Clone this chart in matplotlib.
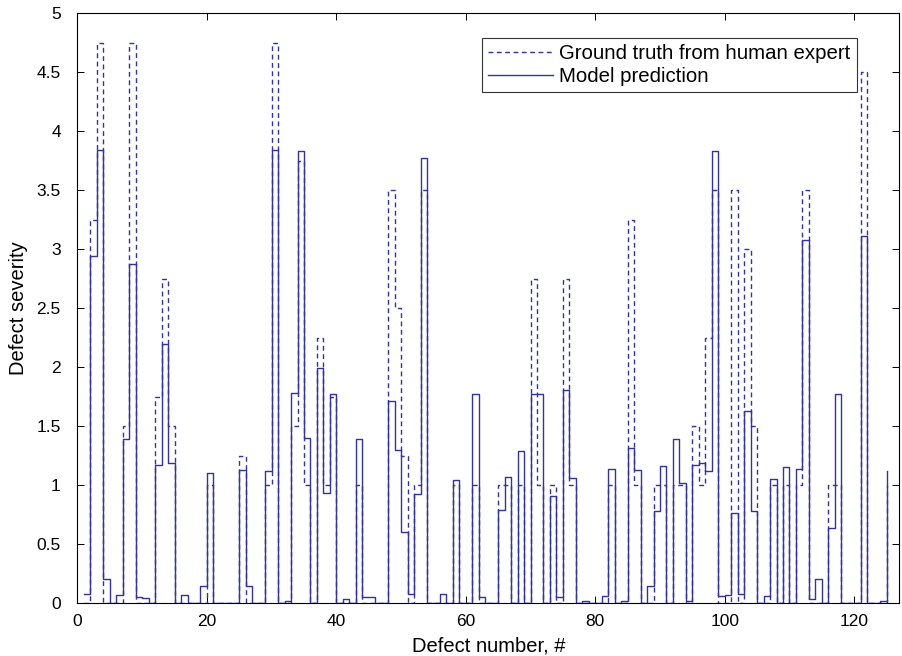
import numpy as np
import matplotlib
matplotlib.use("Agg")
import matplotlib.pyplot as plt
from matplotlib.ticker import FuncFormatter

# Оценки экспертов и модели для каждого дефекта (1..125)
ground_truth = [
    0, 3.25, 4.75, 0, 0, 0, 1.5, 4.75, 0, 0,
    0, 1.75, 2.75, 1.5, 0, 0, 0, 0, 0, 1.0,
    0, 0, 0, 0, 1.25, 0, 0, 0, 1.0, 4.75,
    0, 0, 1.5, 3.75, 1.0, 0, 2.25, 1.0, 1.75, 0,
    0, 0, 1.0, 0, 0, 0, 0, 3.5, 2.5, 1.25,
    0, 1.0, 3.5, 0, 0, 0, 0, 1.0, 0, 0,
    1.0, 0, 0, 0, 1.0, 1.0, 0, 1.0, 0, 2.75,
    1.0, 0, 1.0, 0, 2.75, 1.0, 0, 0, 0, 0,
    0, 1.0, 0, 0, 3.25, 1.0, 0, 0, 1.0, 1.0,
    0, 1.0, 1.0, 0, 1.5, 1.0, 2.25, 3.5, 0, 0,
    3.5, 0, 3.0, 1.5, 0, 0, 1.0, 0, 1.0, 0,
    1.0, 3.5, 0, 0, 0, 1.0, 1.0, 0, 0, 0,
    4.5, 0, 0, 0, 1.0,
]
model_prediction = [
    0.08, 2.94, 3.84, 0.2, 0, 0.07, 1.39, 2.87, 0.05, 0.04,
    0, 1.17, 2.2, 1.19, 0, 0.07, 0, 0, 0.14, 1.1,
    0, 0, 0, 0, 1.13, 0.14, 0, 0, 1.12, 3.84,
    0, 0.02, 1.78, 3.83, 1.4, 0, 1.99, 0.93, 1.77, 0,
    0.03, 0, 1.39, 0.05, 0.05, 0, 0, 1.71, 1.3, 0.6,
    0.08, 0.92, 3.77, 0, 0, 0.08, 0, 1.04, 0, 0,
    1.77, 0.05, 0, 0, 0.79, 1.07, 0, 1.29, 0, 1.77,
    1.77, 0, 0.91, 0.05, 1.81, 1.06, 0, 0.02, 0, 0,
    0.06, 1.14, 0, 0.02, 1.31, 1.13, 0, 0.14, 0.78, 1.16,
    0, 1.39, 1.02, 0.02, 1.17, 1.19, 1.12, 3.83, 0.06, 0.07,
    0.76, 0.08, 1.63, 0.78, 0, 0.06, 1.05, 0, 1.15, 0,
    1.14, 3.08, 0.03, 0.2, 0, 0.64, 1.77, 0, 0, 0,
    3.11, 0, 0, 0.02, 1.12,
]
defect_num = np.arange(1, len(model_prediction) + 1)

line_color = '#3232a8'

plt.rcParams['font.family'] = ['Liberation Sans', 'DejaVu Sans']
fig = plt.figure(figsize=(9.03, 6.56), dpi=100)
ax = fig.add_axes([0.0858, 0.0808, 0.9103, 0.899])

ax.step(defect_num, ground_truth, where='post', color=line_color,
        linewidth=1.0, linestyle=(0, (3.5, 2.5)), label='Ground truth from human expert')
ax.step(defect_num, model_prediction, where='post', color=line_color,
        linewidth=1.0, label='Model prediction')

ax.set_xlim(0, 127)
ax.set_ylim(0, 5)
ax.set_xticks(np.arange(0, 121, 20))
ax.set_yticks(np.arange(0, 5.01, 0.5))
ax.yaxis.set_major_formatter(FuncFormatter(lambda v, p: f'{v:g}'))
ax.tick_params(direction='in', top=True, right=True, length=5, width=0.7,
               labelsize=12.5)
ax.tick_params(axis='y', pad=12)
ax.tick_params(axis='x', pad=8)
for s in ax.spines.values():
    s.set_linewidth(0.8)

ax.set_xlabel('Defect number, #', fontsize=14.5, labelpad=5)
ax.set_ylabel('Defect severity', fontsize=14.5, labelpad=6)

leg = ax.legend(loc='upper right', bbox_to_anchor=(0.948, 0.958), fontsize=14.7,
                frameon=True, fancybox=False, handlelength=3.2, borderpad=0.3,
                labelspacing=0.2, handletextpad=0.3, borderaxespad=0)
leg.get_frame().set_edgecolor('black')
leg.get_frame().set_linewidth(0.8)

plt.savefig('out.png', dpi=100)
